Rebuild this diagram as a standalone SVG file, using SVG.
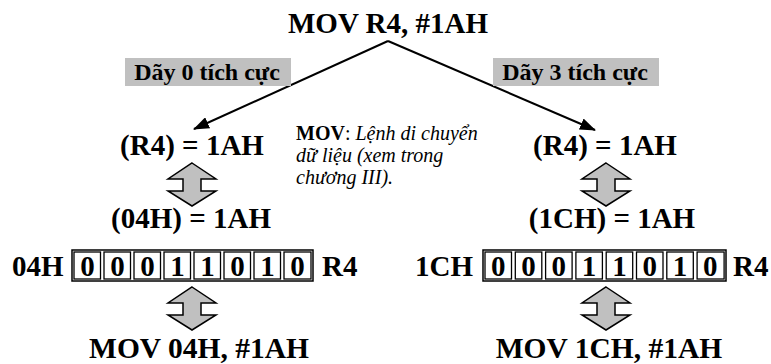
<svg xmlns="http://www.w3.org/2000/svg" width="771" height="364" viewBox="0 0 771 364">
<style>
.t{font-family:"Liberation Serif","Times New Roman",Tinos,"DejaVu Serif",serif;font-weight:bold;fill:#000}
.big{font-size:29px}
.bot{font-size:29.5px}
.lab{font-size:24px}
.note{font-family:"Liberation Serif","Times New Roman",Tinos,"DejaVu Serif",serif;font-size:20px;font-style:italic;fill:#000}
.gbox{fill:#c0c0c0}
.dbl{fill:#c0c0c0;stroke:#000;stroke-width:1.5;stroke-linejoin:miter}
.cell{fill:#fff;stroke:#000;stroke-width:1.3}
.outer{fill:#fff;stroke:#000;stroke-width:1.5}
.ln{stroke:#000;stroke-width:2;fill:none}
</style>
<defs>
<marker id="ah" viewBox="0 0 16 12" refX="15" refY="6" markerWidth="16" markerHeight="12" markerUnits="userSpaceOnUse" orient="auto">
<path d="M0,0 L16,6 L0,12 Z" fill="#000"/>
</marker>
<polygon id="ud" class="dbl" points="0,0 24,16 9,16 9,28 24,28 0,43 -24,28 -9,28 -9,16 -24,16"/>
</defs>

<g id="connectors">
<line class="ln" x1="388" y1="41" x2="194" y2="129" marker-end="url(#ah)"/>
<line class="ln" x1="388" y1="41" x2="595" y2="130" marker-end="url(#ah)"/>
<use href="#ud" x="192" y="163"/>
<use href="#ud" x="192" y="287"/>
<use href="#ud" x="606" y="163"/>
<use href="#ud" x="606" y="287"/>
</g>

<g id="title"><text class="t big" x="388" y="33" text-anchor="middle">MOV R4, #1AH</text></g>

<g id="label-left"><rect class="gbox" x="125" y="58" width="166" height="28"/><text class="t lab" x="207" y="80" text-anchor="middle">Dãy 0 tích cực</text></g>
<g id="label-right"><rect class="gbox" x="493" y="58" width="166" height="28"/><text class="t lab" x="575" y="80" text-anchor="middle">Dãy 3 tích cực</text></g>

<g id="note"><text class="note" x="296" y="140"><tspan font-style="normal" font-weight="bold">MOV</tspan><tspan font-style="normal">:</tspan> Lệnh di chuyển</text>
<text class="note" x="296" y="162">dữ liệu (xem trong</text>
<text class="note" x="296" y="184">chương III).</text></g>

<g id="r4-left"><text class="t big" x="192" y="155" text-anchor="middle">(R4) = 1AH</text></g>
<g id="r4-right"><text class="t big" x="605" y="155" text-anchor="middle">(R4) = 1AH</text></g>
<g id="addr-left"><text class="t big" x="191" y="228" text-anchor="middle">(04H) = 1AH</text></g>
<g id="addr-right"><text class="t big" x="612" y="228" text-anchor="middle">(1CH) = 1AH</text></g>

<g id="reg-left">
<text class="t big" x="12" y="276">04H</text>
<rect class="outer" x="72" y="250" width="241" height="31"/>
<g>
<rect class="cell" x="74" y="252" width="26.5" height="27"/>
<rect class="cell" x="104" y="252" width="26.5" height="27"/>
<rect class="cell" x="134" y="252" width="26.5" height="27"/>
<rect class="cell" x="164" y="252" width="26.5" height="27"/>
<rect class="cell" x="194" y="252" width="26.5" height="27"/>
<rect class="cell" x="224" y="252" width="26.5" height="27"/>
<rect class="cell" x="254" y="252" width="26.5" height="27"/>
<rect class="cell" x="284" y="252" width="27" height="27"/>
</g>
<g class="t big" text-anchor="middle">
<text x="87.5" y="276">0</text><text x="117.5" y="276">0</text><text x="147.5" y="276">0</text><text x="177.5" y="276">1</text>
<text x="207.5" y="276">1</text><text x="237.5" y="276">0</text><text x="267.5" y="276">1</text><text x="297.5" y="276">0</text>
</g>
<text class="t big" x="322" y="276">R4</text>
</g>

<g id="reg-right">
<text class="t big" x="415" y="276">1CH</text>
<rect class="outer" x="483" y="250" width="243" height="31"/>
<g>
<rect class="cell" x="485" y="252" width="26.5" height="27"/>
<rect class="cell" x="515.3" y="252" width="26.5" height="27"/>
<rect class="cell" x="545.6" y="252" width="26.5" height="27"/>
<rect class="cell" x="575.9" y="252" width="26.5" height="27"/>
<rect class="cell" x="606.2" y="252" width="26.5" height="27"/>
<rect class="cell" x="636.5" y="252" width="26.5" height="27"/>
<rect class="cell" x="666.8" y="252" width="26.5" height="27"/>
<rect class="cell" x="697.1" y="252" width="27" height="27"/>
</g>
<g class="t big" text-anchor="middle">
<text x="498.2" y="276">0</text><text x="528.5" y="276">0</text><text x="558.8" y="276">0</text><text x="589.1" y="276">1</text>
<text x="619.4" y="276">1</text><text x="649.7" y="276">0</text><text x="680" y="276">1</text><text x="710.3" y="276">0</text>
</g>
<text class="t big" x="733" y="276">R4</text>
</g>

<g id="mov-left"><text class="t bot" x="199" y="358" text-anchor="middle">MOV 04H, #1AH</text></g>
<g id="mov-right"><text class="t bot" x="609" y="358" text-anchor="middle">MOV 1CH, #1AH</text></g>
</svg>
